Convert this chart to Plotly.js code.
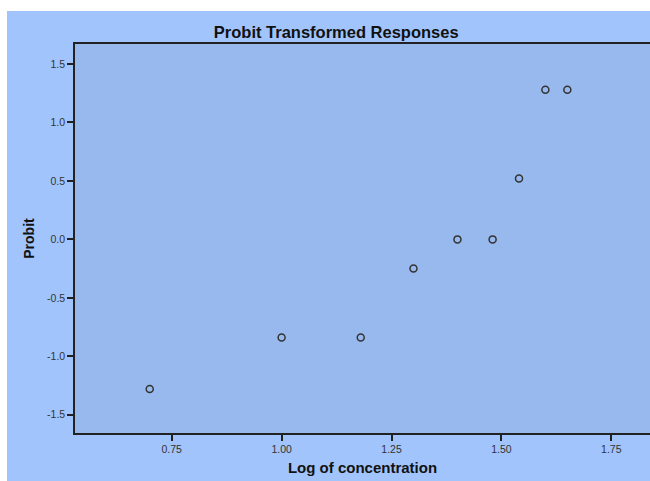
<!DOCTYPE html>
<html>
<head>
<meta charset="utf-8">
<script src="https://cdn.plot.ly/plotly-3.0.1.min.js"></script>
<style>
  html, body { margin: 0; padding: 0; background: #ffffff; }
  #chart { position: absolute; left: 7px; top: 11px; width: 643px; height: 470px; }
</style>
</head>
<body>
<div id="chart"></div>
<script>
// Log of concentration (x) and probit-transformed response (y)
const logConcentration = [0.70, 1.00, 1.18, 1.30, 1.40, 1.48, 1.54, 1.60, 1.65];
const probit = [-1.28, -0.84, -0.84, -0.25, 0.00, 0.00, 0.52, 1.28, 1.28];

const xTicks = [0.75, 1.00, 1.25, 1.50, 1.75];
const xTickLabels = ["0.75", "1.00", "1.25", "1.50", "1.75"];
const yTicks = [-1.5, -1.0, -0.5, 0.0, 0.5, 1.0, 1.5];
const yTickLabels = ["-1.5", "-1.0", "-0.5", "0.0", "0.5", "1.0", "1.5"];

const trace = {
  type: "scatter",
  mode: "markers",
  x: logConcentration,
  y: probit,
  marker: {
    symbol: "circle-open",
    size: 7,
    color: "#333333",
    line: { width: 1.5, color: "#333333" }
  },
  hoverinfo: "x+y"
};

const layout = {
  width: 643,
  height: 470,
  margin: { l: 68, r: 0, t: 32.5, b: 48 },
  paper_bgcolor: "#a1c4fc",
  plot_bgcolor: "#97b9ee",
  showlegend: false,
  font: { family: "Liberation Sans, Arial, sans-serif", color: "#333333", size: 10 },
  title: {
    text: "<b>Probit Transformed Responses</b>",
    font: { family: "Liberation Sans, Arial, sans-serif", size: 16.5, color: "#111111" },
    xref: "container", x: 0.512, xanchor: "center",
    yref: "container", y: 0.955, yanchor: "middle"
  },
  xaxis: {
    range: [0.530, 1.838],
    tickvals: xTicks,
    ticktext: xTickLabels,
    ticks: "outside",
    ticklen: 6,
    tickwidth: 1.5,
    tickcolor: "#222222",
    showgrid: false,
    zeroline: false,
    showline: true,
    linecolor: "#222222",
    linewidth: 1.5,
    mirror: true,
    tickfont: { size: 10.5, color: "#333333" },
    title: {
      text: "<b>Log of concentration</b>",
      font: { family: "Liberation Sans, Arial, sans-serif", size: 15, color: "#111111" },
      standoff: 8
    }
  },
  yaxis: {
    range: [-1.656, 1.671],
    tickvals: yTicks,
    ticktext: yTickLabels,
    ticks: "outside",
    ticklen: 6,
    tickwidth: 1.5,
    tickcolor: "#222222",
    showgrid: false,
    zeroline: false,
    showline: true,
    linecolor: "#222222",
    linewidth: 1.5,
    tickfont: { size: 10.5, color: "#333333" },
    title: {
      text: "<b>Probit</b>",
      font: { family: "Liberation Sans, Arial, sans-serif", size: 14, color: "#111111" },
      standoff: 9
    }
  }
};

Plotly.newPlot("chart", [trace], layout, { displayModeBar: false });
</script>
</body>
</html>
